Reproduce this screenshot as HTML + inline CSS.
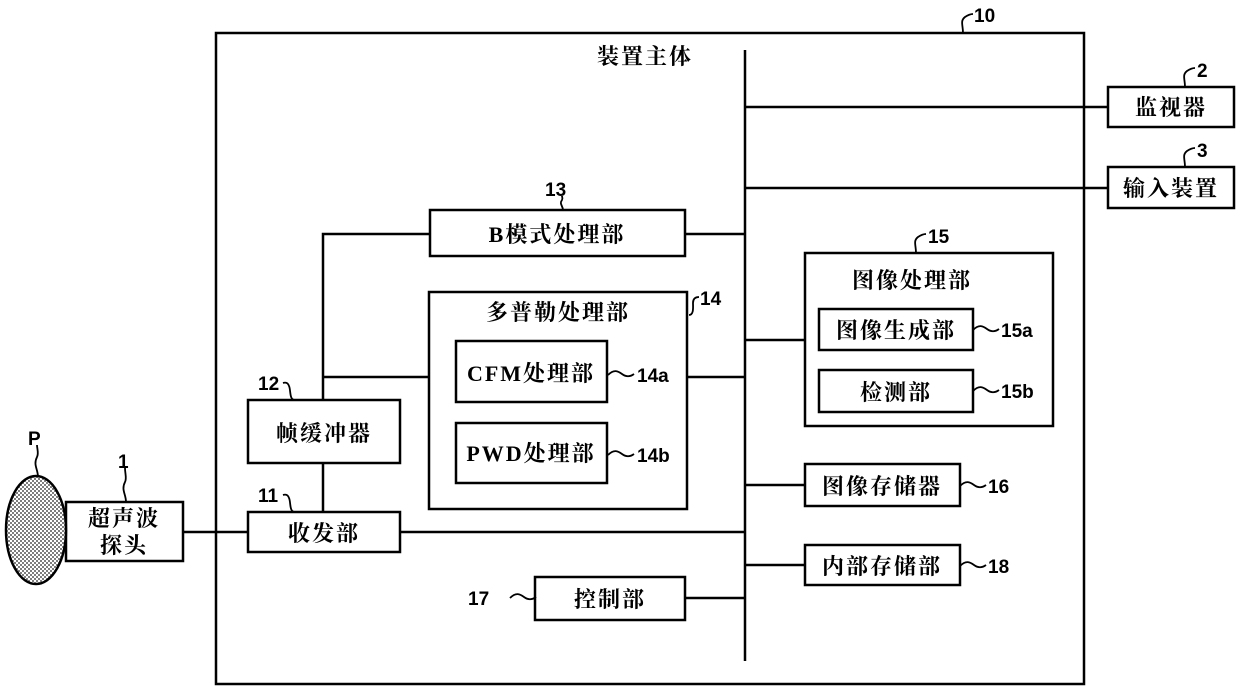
<!DOCTYPE html>
<html><head><meta charset="utf-8"><style>
html,body{margin:0;padding:0;background:#fff;}
svg{display:block;}
text{font-family:"Liberation Serif","Noto Serif CJK SC","Noto Sans CJK SC",serif;font-size:22px;fill:#000;font-weight:bold;letter-spacing:2px;}
.n{font-family:"Liberation Sans",sans-serif;font-weight:bold;font-size:19px;letter-spacing:0;}
</style></head><body>
<svg width="1240" height="692" viewBox="0 0 1240 692" xmlns="http://www.w3.org/2000/svg">
<defs>
<pattern id="dots" width="4" height="4" patternUnits="userSpaceOnUse">
<rect width="4" height="4" fill="#fff"/><circle cx="1" cy="1" r="1" fill="#555"/><circle cx="3" cy="3" r="1" fill="#555"/>
</pattern>
</defs>
<g fill="none" stroke="#000" stroke-width="2.5">
<rect x="216" y="33" width="868" height="651"/>
<line x1="745" y1="50" x2="745" y2="661"/>
<rect x="1108" y="87" width="126" height="40"/>
<line x1="745" y1="107" x2="1108" y2="107"/>
<rect x="1108" y="167" width="126" height="41"/>
<line x1="745" y1="188" x2="1108" y2="188"/>
<rect x="430" y="210" width="255" height="46"/>
<line x1="685" y1="234" x2="745" y2="234"/>
<polyline points="430,234 323,234 323,400"/>
<rect x="429" y="292" width="258" height="217"/>
<rect x="456" y="341" width="151" height="61"/>
<rect x="456" y="423" width="151" height="60"/>
<line x1="687" y1="377" x2="745" y2="377"/>
<line x1="323" y1="377" x2="429" y2="377"/>
<rect x="248" y="400" width="152" height="63"/>
<line x1="323" y1="463" x2="323" y2="512"/>
<rect x="248" y="512" width="152" height="40"/>
<line x1="400" y1="532" x2="745" y2="532"/>
<rect x="66" y="502" width="117" height="59"/>
<line x1="183" y1="532" x2="248" y2="532"/>
<rect x="535" y="577" width="150" height="43"/>
<line x1="685" y1="598" x2="745" y2="598"/>
<rect x="805" y="253" width="248" height="173"/>
<line x1="745" y1="340" x2="805" y2="340"/>
<rect x="819" y="309" width="154" height="41"/>
<rect x="819" y="370" width="154" height="42"/>
<rect x="805" y="464" width="155" height="42"/>
<line x1="745" y1="485" x2="805" y2="485"/>
<rect x="805" y="545" width="155" height="40"/>
<line x1="745" y1="565" x2="805" y2="565"/>
</g>
<ellipse cx="36" cy="530" rx="30" ry="54" fill="url(#dots)" stroke="#000" stroke-width="2.5"/>
<g fill="none" stroke="#000" stroke-width="1.8">
<path d="M963,33 c0,-8 -3,-12 2,-16 c3,-2 5,-3 8,-3"/>
<path d="M1185,87 c0,-8 -3,-12 2,-16 c3,-2 5,-3 8,-3"/>
<path d="M1185,167 c0,-8 -3,-12 2,-16 c3,-2 5,-3 8,-3"/>
<path d="M916,253 c0,-8 -3,-12 2,-16 c3,-2 5,-3 8,-3"/>
<path d="M689,315 c5,0 4,-8 4,-12 c0,-4 2,-6 6,-6"/>
<path d="M563,210 c0,-4 -4,-6 -1,-10 c1,-2 0,-3 0,-4"/>
<path d="M38,477 c0,-8 -5,-12 -1,-20 c2,-4 0,-8 0,-12"/>
<path d="M126,502 c0,-8 -5,-12 -1,-20 c2,-4 0,-8 0,-14"/>
<path d="M295,400 c-6,0 -4,-10 -6,-14 c-1,-3 -3,-4 -6,-3"/>
<path d="M295,512 c-6,0 -4,-10 -6,-14 c-1,-3 -3,-4 -6,-3"/>
<path d="M608,375 c6,-6 10,-4 14,-1 c4,3 8,3 12,0"/>
<path d="M608,455 c6,-6 10,-4 14,-1 c4,3 8,3 12,0"/>
<path d="M973,330 c6,-6 10,-4 14,-1 c4,3 8,3 12,0"/>
<path d="M973,391 c6,-6 10,-4 14,-1 c4,3 8,3 12,0"/>
<path d="M960,486 c6,-6 10,-4 14,-1 c4,3 8,3 12,0"/>
<path d="M960,566 c6,-6 10,-4 14,-1 c4,3 8,3 12,0"/>
<path d="M510,598 c6,-6 10,-4 14,-1 c4,3 8,3 12,0"/>
</g>
<g text-anchor="middle">
<text x="645" y="64">装置主体</text>
<text x="1171" y="115">监视器</text>
<text x="1171" y="196">输入装置</text>
<text x="557" y="242">B模式处理部</text>
<text x="558" y="320">多普勒处理部</text>
<text x="531" y="381">CFM处理部</text>
<text x="531" y="461">PWD处理部</text>
<text x="324" y="441">帧缓冲器</text>
<text x="324" y="541">收发部</text>
<text x="124" y="526">超声波</text>
<text x="124" y="553">探头</text>
<text x="610" y="607">控制部</text>
<text x="912" y="288">图像处理部</text>
<text x="896" y="338">图像生成部</text>
<text x="896" y="400">检测部</text>
<text x="882" y="494">图像存储器</text>
<text x="882" y="574">内部存储部</text>
</g>
<g>
<text class="n" x="974" y="22">10</text>
<text class="n" x="1197" y="77">2</text>
<text class="n" x="1197" y="157">3</text>
<text class="n" x="928" y="243">15</text>
<text class="n" x="700" y="305">14</text>
<text class="n" x="545" y="196">13</text>
<text class="n" x="28" y="445">P</text>
<text class="n" x="118" y="468">1</text>
<text class="n" x="258" y="390">12</text>
<text class="n" x="258" y="502">11</text>
<text class="n" x="637" y="382">14a</text>
<text class="n" x="637" y="462">14b</text>
<text class="n" x="1001" y="337">15a</text>
<text class="n" x="1001" y="398">15b</text>
<text class="n" x="988" y="493">16</text>
<text class="n" x="988" y="573">18</text>
<text class="n" x="468" y="605">17</text>
</g>
</svg>
</body></html>
